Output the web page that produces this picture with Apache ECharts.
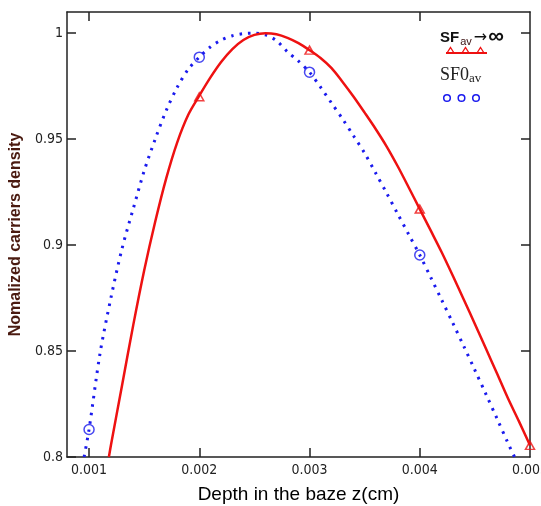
<!DOCTYPE html>
<html>
<head>
<meta charset="utf-8">
<script src="https://cdn.jsdelivr.net/npm/echarts@6/dist/echarts.min.js"></script>
<style>
  html, body { margin: 0; padding: 0; background: #fff; }
  #chart { width: 541px; height: 506px; }
</style>
</head>
<body>
<div id="chart"></div>
<script>
// SF_av -> infinity (red solid curve)
const redX = [0.00118, 0.0012, 0.0013, 0.0014, 0.0015, 0.0016, 0.0017, 0.0018, 0.0019, 0.002, 0.0021, 0.0022, 0.0023, 0.0024, 0.0025, 0.0026, 0.0027, 0.0028, 0.0029, 0.003, 0.0031, 0.0032, 0.0033, 0.0034, 0.0035, 0.0036, 0.0037, 0.0038, 0.0039, 0.004, 0.0041, 0.0042, 0.0043, 0.0044, 0.0045, 0.0046, 0.0047, 0.0048, 0.0049, 0.005]
const redY = [0.800, 0.806, 0.834, 0.862, 0.888, 0.911, 0.9315, 0.9485, 0.9615, 0.9705, 0.979, 0.9865, 0.9925, 0.9968, 0.9992, 1.000, 0.9995, 0.9978, 0.9953, 0.992, 0.9883, 0.9835, 0.977, 0.970, 0.9625, 0.9548, 0.9465, 0.9372, 0.9272, 0.917, 0.9068, 0.8965, 0.8855, 0.8742, 0.8628, 0.8512, 0.8395, 0.8277, 0.8168, 0.8055]

// SF0_av (blue dotted curve)
const blueX = [0.000955, 0.001, 0.0011, 0.0012, 0.0013, 0.0014, 0.0015, 0.0016, 0.0017, 0.0018, 0.0019, 0.002, 0.0021, 0.0022, 0.0023, 0.0024, 0.0025, 0.0026, 0.0027, 0.0028, 0.0029, 0.003, 0.0031, 0.0032, 0.0033, 0.0034, 0.0035, 0.0036, 0.0037, 0.0038, 0.0039, 0.004, 0.0041, 0.0042, 0.0043, 0.0044, 0.0045, 0.0046, 0.0047, 0.0048, 0.00486]
const blueY = [0.800, 0.813, 0.849, 0.8755, 0.8985, 0.917, 0.935, 0.950, 0.9635, 0.9745, 0.983, 0.9887, 0.9935, 0.9968, 0.9988, 0.9998, 1.000, 0.9992, 0.9965, 0.9912, 0.9868, 0.9816, 0.9745, 0.967, 0.9595, 0.9515, 0.9434, 0.934, 0.9245, 0.9147, 0.905, 0.8953, 0.8847, 0.874, 0.8632, 0.8522, 0.841, 0.8297, 0.8182, 0.8066, 0.800]

// marker points
const triX = [0.002, 0.003, 0.004, 0.005]
const triY = [0.970, 0.992, 0.917, 0.8055]
const circX = [0.001, 0.002, 0.003, 0.004]
const circY = [0.813, 0.9887, 0.9816, 0.8953]

// ticks
const xTicks = [0.001, 0.002, 0.003, 0.004]
const xLabels = [0.001, 0.002, 0.003, 0.004, 0.005]
const yTicks = [0.8, 0.85, 0.9, 0.95, 1]

const RED = '#ee1111'
const BLUE = '#1a1aee'
const tickFont = "'Liberation Sans Narrow', 'DejaVu Sans Condensed', sans-serif"

const zip = (xs, ys) => xs.map((x, i) => [x, ys[i]])

const chart = echarts.init(document.getElementById('chart'))

const frameAxis = {
  type: 'value',
  axisLine: { show: true, onZero: false, lineStyle: { color: '#222', width: 1.5 } },
  axisTick: { show: true, inside: true, length: 9, lineStyle: { color: '#222', width: 1.5 } },
  splitLine: { show: false }
}

const option = {
  animation: false,
  backgroundColor: '#fff',
  grid: { left: 67, right: 11, top: 12, bottom: 49, outerBoundsMode: 'none', containLabel: false },
  xAxis: [
    Object.assign({}, frameAxis, {
      min: 0.0008,
      max: 0.005,
      position: 'bottom',
      axisTick: Object.assign({}, frameAxis.axisTick, { customValues: xTicks }),
      axisLabel: {
        customValues: xLabels,
        margin: 6,
        color: '#222',
        fontFamily: tickFont,
        fontSize: 14,
        formatter: v => v.toFixed(3)
      },
      name: 'Depth in the baze z(cm)',
      nameLocation: 'middle',
      nameGap: 28,
      nameTextStyle: { color: '#000', fontFamily: 'Liberation Sans, Arial, sans-serif', fontSize: 19 }
    }),
    Object.assign({}, frameAxis, {
      min: 0.0008,
      max: 0.005,
      position: 'top',
      axisTick: Object.assign({}, frameAxis.axisTick, { customValues: xTicks }),
      axisLabel: { show: false }
    })
  ],
  yAxis: [
    Object.assign({}, frameAxis, {
      min: 0.8,
      max: 1.01,
      position: 'left',
      axisTick: Object.assign({}, frameAxis.axisTick, { customValues: yTicks }),
      axisLabel: {
        customValues: yTicks,
        margin: 4,
        color: '#222',
        fontFamily: tickFont,
        fontSize: 14,
        formatter: v => String(+v.toFixed(2))
      },
      name: 'Nomalized carriers density',
      nameLocation: 'middle',
      nameGap: 38,
      nameTextStyle: { color: '#4a1a10', fontFamily: 'Liberation Sans, Arial, sans-serif', fontSize: 16, fontWeight: 'bold' }
    }),
    Object.assign({}, frameAxis, {
      min: 0.8,
      max: 1.01,
      position: 'right',
      axisTick: Object.assign({}, frameAxis.axisTick, { customValues: [0.85, 0.9, 0.95, 1] }),
      axisLabel: { show: false }
    })
  ],
  series: [
    {
      name: 'SF0av',
      type: 'line',
      data: zip(blueX, blueY),
      showSymbol: false,
      smooth: 0.3,
      lineStyle: { color: BLUE, width: 3, type: [2.5, 6] }
    },
    {
      name: 'SFav',
      type: 'line',
      data: zip(redX, redY),
      showSymbol: false,
      smooth: 0.3,
      lineStyle: { color: RED, width: 2.5 }
    },
    {
      type: 'scatter',
      data: zip(circX, circY),
      symbol: 'circle',
      symbolSize: 10,
      itemStyle: { color: 'transparent', borderColor: BLUE, borderWidth: 1.5 }
    },
    {
      type: 'scatter',
      data: zip(triX, triY),
      symbol: 'triangle',
      symbolSize: [9, 8],
      itemStyle: { color: 'transparent', borderColor: RED, borderWidth: 1.5 }
    }
  ],
  graphic: [
    {
      type: 'text',
      left: 440,
      top: 26,
      style: {
        text: '{b|SF}{s|av}{a|→}{n|∞}',
        rich: {
          b: { fontFamily: 'Liberation Sans, Arial, sans-serif', fontWeight: 'bold', fontSize: 15, fill: '#111' },
          s: { fontFamily: 'Liberation Sans, Arial, sans-serif', fontSize: 11, fill: '#3a1010', padding: [8, 2, 0, 1] },
          a: { fontFamily: 'DejaVu Sans, sans-serif', fontSize: 16, fill: '#111' },
          n: { fontFamily: 'Liberation Sans, Arial, sans-serif', fontWeight: 'bold', fontSize: 22, fill: '#111', padding: [0, 0, 2, 1] }
        }
      }
    },
    { type: 'line', shape: { x1: 446, y1: 53, x2: 487, y2: 53 }, style: { stroke: RED, lineWidth: 2 } },
    { type: 'polygon', shape: { points: [[447, 53], [450.5, 47.5], [454, 53]] }, style: { fill: 'none', stroke: RED, lineWidth: 1.3 } },
    { type: 'polygon', shape: { points: [[462, 53], [465.5, 47.5], [469, 53]] }, style: { fill: 'none', stroke: RED, lineWidth: 1.3 } },
    { type: 'polygon', shape: { points: [[477, 53], [480.5, 47.5], [484, 53]] }, style: { fill: 'none', stroke: RED, lineWidth: 1.3 } },
    {
      type: 'text',
      left: 440,
      top: 66,
      style: {
        text: '{b|SF0}{s|av}',
        rich: {
          b: { fontFamily: 'Liberation Serif, serif', fontSize: 18, fill: '#222' },
          s: { fontFamily: 'Liberation Serif, serif', fontSize: 13, fill: '#222', padding: [8, 0, 0, 0] }
        }
      }
    },
    { type: 'circle', shape: { cx: 447, cy: 98, r: 3.3 }, style: { fill: 'none', stroke: BLUE, lineWidth: 1.5 } },
    { type: 'circle', shape: { cx: 461.5, cy: 98, r: 3.3 }, style: { fill: 'none', stroke: BLUE, lineWidth: 1.5 } },
    { type: 'circle', shape: { cx: 476, cy: 98, r: 3.3 }, style: { fill: 'none', stroke: BLUE, lineWidth: 1.5 } }
  ]
}

chart.setOption(option)
</script>
</body>
</html>
